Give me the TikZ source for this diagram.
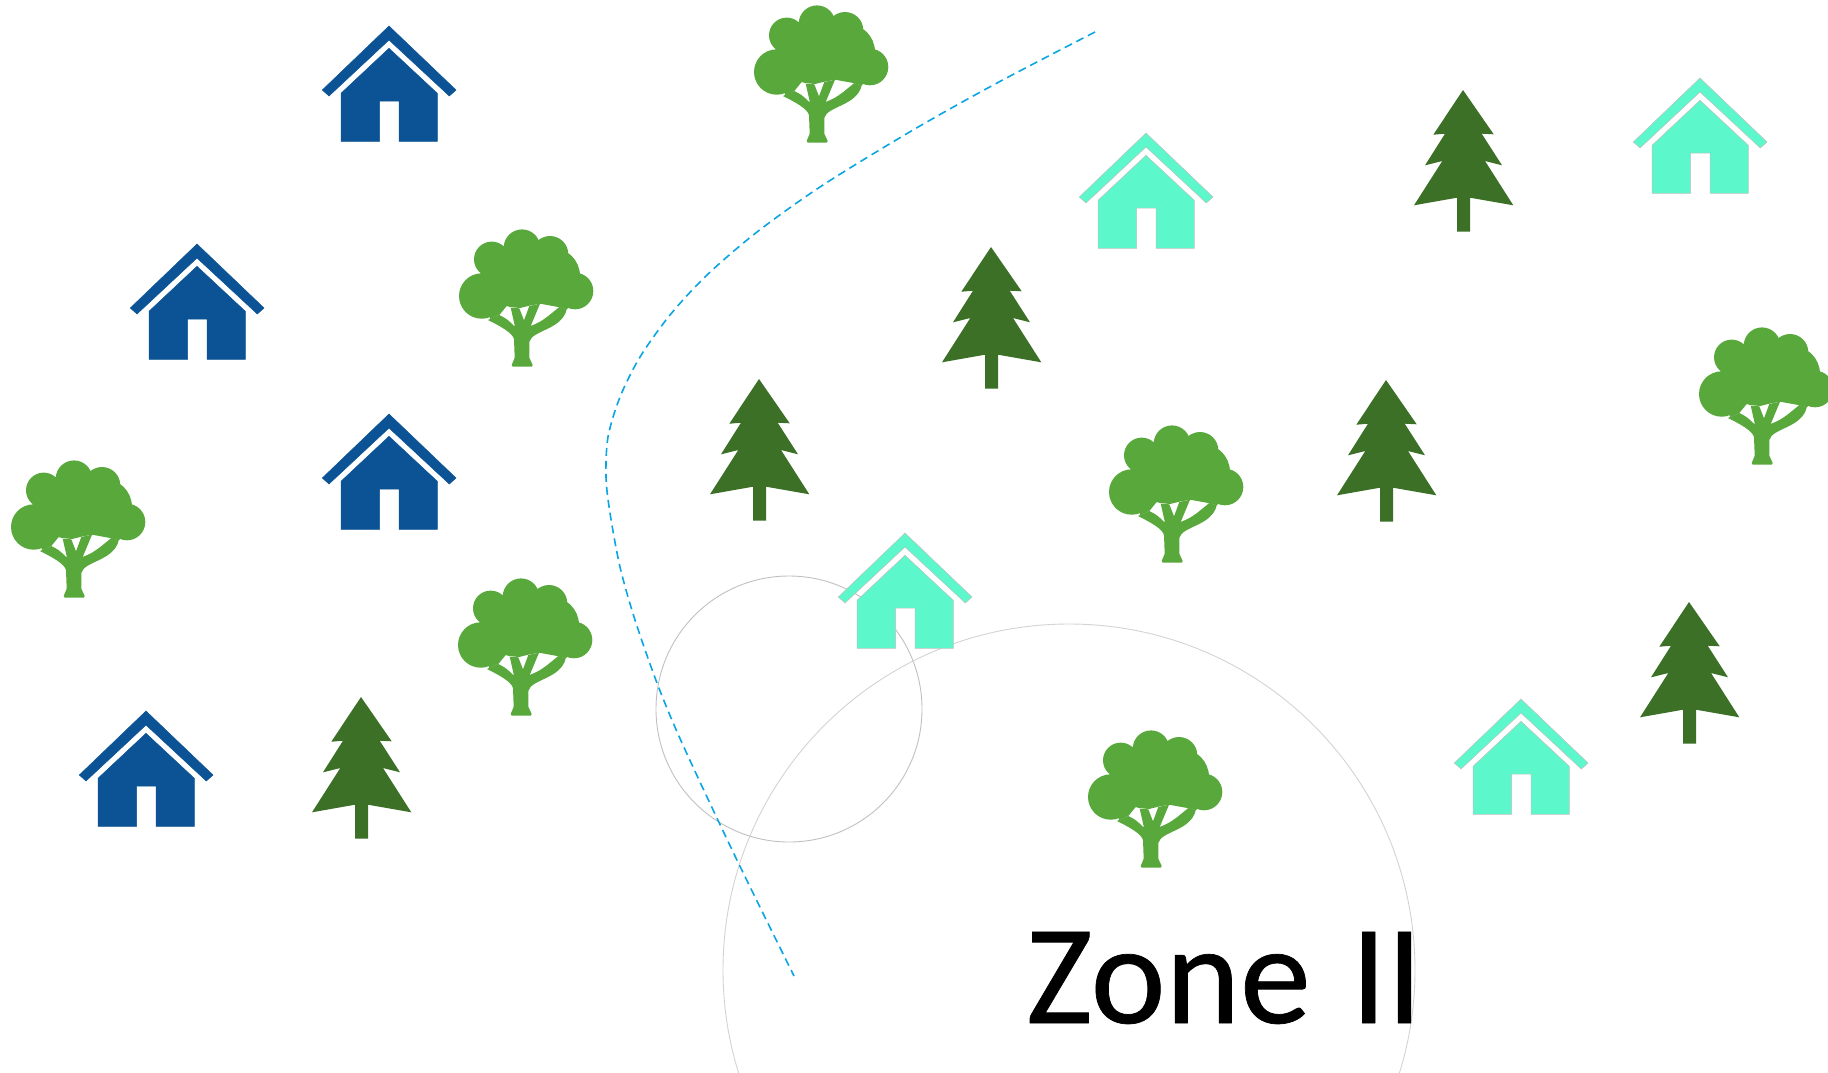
\documentclass[tikz,border=0pt]{standalone}
\usepackage{xcolor}
\usepackage{fontspec}
\setmainfont{Carlito}[WordSpace=1.25]
\usepackage{tikz}
\usetikzlibrary{positioning}
\definecolor{houseblue}{HTML}{0B5394}
\definecolor{houseteal}{HTML}{5DF7CC}
\definecolor{oakgreen}{HTML}{58A83C}
\definecolor{pinegreen}{HTML}{3B7026}
\definecolor{roadblue}{HTML}{0AA5E2}
\definecolor{zonegray}{HTML}{C0C0C0}
\begin{document}
\begin{tikzpicture}[
  x=1pt, y=-1pt,
  house/.pic={
    \path[pic actions] (0,0) -- (67,64) -- (60.3,70) -- (0,14) -- (-60,70) -- (-66.7,64) -- cycle;
    \path[pic actions] (0,22.3) -- (48.3,67.3) -- (48.3,115.3) -- (10,115.3) -- (10,75)
      -- (-9.3,75) -- (-9.3,115.3) -- (-48,115.3) -- (-48,67.3) -- cycle;
  },
  pine/.pic={
    \fill[pinegreen] (0,0) -- (30.7,44.3) -- (18.7,43.7) -- (39,75.3) -- (22,71) -- (50.3,115.3)
      -- (7,107.7) -- (7,141.7) -- (-6,141.7) -- (-6,107.7) -- (-49,115.3) -- (-20.7,71)
      -- (-38,75.3) -- (-18,43.7) -- (-29.7,44.7) -- cycle;
  },
  oak/.pic={
    \fill[oakgreen] (-40.3,-70) circle[radius=22.7] (-30.3,-106.7) circle[radius=17.7]
      (0,-118.3) circle[radius=18.3] (28,-111.7) circle[radius=18.3]
      (53,-75) circle[radius=18.3] (29.7,-90) circle[radius=28.3];
    \fill[oakgreen] (-38.7,-88.3) -- (-0.7,-115) -- (31.3,-88.3) -- (50,-62) -- (44.7,-56.7) -- (36.3,-59)
      -- (18,-62.3) -- (7.3,-60.3) -- (-2,-58) -- (-12,-59) -- (-15.3,-60) -- (-22.7,-51) -- (-32,-46.7) -- cycle;
    \fill[oakgreen] (-22.7,-51) .. controls (-15,-47) .. (-7,-39.3) -- (-11.3,-58.3) -- (-2.7,-57.7)
      -- (2,-45.7) -- (7.3,-60) -- (18,-62.3) -- (8.7,-40) .. controls (18,-44) .. (26.3,-50)
      -- (37.3,-59) -- (44.7,-56.7) .. controls (40,-36) and (10,-36) .. (7.3,-24) -- (7.3,-8.3)
      -- (10.7,-1) -- (9.7,0.7) -- (-9.3,0.7) -- (-10.3,-1) -- (-7.3,-8.3) -- (-8,-26.7)
      .. controls (-9,-33) and (-22,-40) .. (-34,-46) -- cycle;
  },
  zone/.style={draw=zonegray, line width=0.9pt},
  road/.style={draw=roadblue, line width=1.6pt, dash pattern=on 8pt off 5pt},
  blueroof/.style={fill=houseblue, draw=houseblue, line width=0.5pt},
  tealroof/.style={fill=houseteal, draw=zonegray, line width=0.5pt},
]
\useasboundingbox (0,0) rectangle (1828,1072);

% Zones
\draw[zone] (789,709) circle[radius=133];
\draw[zone, draw=zonegray!70] (1069,970) circle[radius=346];

% Road
\draw[road] plot[smooth] coordinates {(1095,32) (997,83) (913,130) (823,185) (757,232)
  (707,275) (670,315) (640,357) (620,397) (608,437) (606,477) (610,513) (620,567)
  (635,620) (657,683) (682,743) (735,856) (794,976)};

% Blue houses
\pic[blueroof] (hb1) at (389,26) {house};
\pic[blueroof] (hb2) at (197,244) {house};
\pic[blueroof] (hb3) at (389,414) {house};
\pic[blueroof] (hb4) at (146,711) {house};

% Teal houses
\pic[tealroof] (ht1) at (1146,133) {house};
\pic[tealroof] (ht2) at (1700,78) {house};
\pic[tealroof] (ht3) at (905,533) {house};
\pic[tealroof] (ht4) at (1521,699) {house};

% Pines
\pic (pn1) at (1463,90) {pine};
\pic (pn2) at (991,247) {pine};
\pic (pn3) at (759,379) {pine};
\pic (pn4) at (1386,380) {pine};
\pic (pn5) at (1689,602) {pine};
\pic (pn6) at (361,697) {pine};

% Oaks
\pic (ok1) at (817,142) {oak};
\pic (ok2) at (522,366) {oak};
\pic (ok3) at (74,597) {oak};
\pic (ok4) at (521,715) {oak};
\pic (ok5) at (1172,562) {oak};
\pic (ok6) at (1762,464) {oak};
\pic (ok7) at (1151,867) {oak};

% Label
\node[font=\fontsize{142}{142}\selectfont\addfontfeature{FakeBold=0.5}, anchor=base west, inner sep=0pt] (zn) at (1026,1023) {Zone II};

\end{tikzpicture}
\end{document}
